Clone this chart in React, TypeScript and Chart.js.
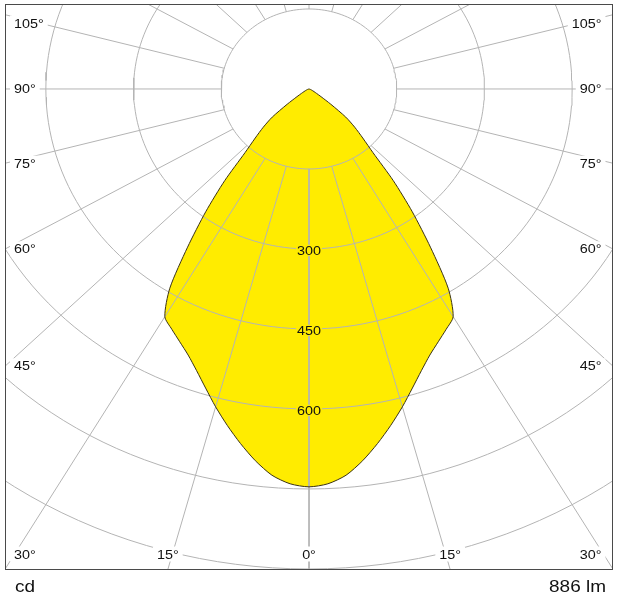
import React, { useEffect, useRef } from "react";
import { Chart, registerables } from "chart.js";

Chart.register(...registerables);

// Polar angle (degrees from nadir) and luminous intensity (cd), symmetric curve
const ANGLES = [0, 2.5, 5, 7.5, 10, 12.5, 15, 17.5, 20, 22.5, 25, 27.5, 30, 32.5, 35, 37.5, 40, 42.5, 45, 47.5, 50, 52.5, 55, 57.5, 60, 62.5, 65, 67.5, 70, 72.5, 75, 77.5, 80, 85, 90];
const INTENSITY = [746, 741, 727, 703, 675, 646, 617, 588, 562, 540, 523, 508, 493, 443, 362, 290, 224, 162, 130, 106, 82, 47, 25, 15, 10, 7, 5, 4, 3, 2, 1, 0, 0, 0, 0];

// Grid
const RING_VALUES = [150, 300, 450, 600, 750, 900, 1050];
const RING_LABELS = [300, 450, 600];
const RADIAL_ANGLES = [0, 15, 30, 45, 60, 75, 90, 105, 120, 135, 150, 165, 180];
const DEGREE_LABELS = [0, 15, 30, 45, 60, 75, 90, 105];
const UNIT_LABEL = "cd";
const FLUX_LABEL = "886 lm";

const INNER_RADIUS = 150;
const OUTER_RADIUS = 1150;

const FILL_COLOR = "#ffec00";
const OUTLINE_COLOR = "#3a3214";
const GRID_COLOR = "#b4b4b4";
const FRAME_COLOR = "#4a4a4a";
const TEXT_COLOR = "#111111";
const FONT = '"Liberation Sans", Arial, sans-serif';
const STRETCH = 1.15;

const toXY = (deg: number, r: number) => {
  const a = (deg * Math.PI) / 180;
  return { x: r * Math.sin(a), y: -r * Math.cos(a) };
};

function buildCurve() {
  const pts: { x: number; y: number }[] = [];
  for (let i = ANGLES.length - 1; i >= 0; i--) pts.push(toXY(-ANGLES[i], INTENSITY[i]));
  for (let i = 1; i < ANGLES.length; i++) pts.push(toXY(ANGLES[i], INTENSITY[i]));
  return pts;
}

function buildRings() {
  const pts: any[] = [];
  RING_VALUES.forEach((r) => {
    for (let a = 0; a <= 360; a += 2) pts.push(toXY(a, r));
    pts.push({ x: null, y: null });
  });
  return pts;
}

function buildRadials() {
  const pts: any[] = [];
  RADIAL_ANGLES.forEach((a) => {
    const sides = a === 0 || a === 180 ? [1] : [-1, 1];
    sides.forEach((s) => {
      pts.push(toXY(s * a, INNER_RADIUS));
      pts.push(toXY(s * a, OUTER_RADIUS));
      pts.push({ x: null, y: null });
    });
  });
  return pts;
}

function drawStretched(ctx: CanvasRenderingContext2D, text: string, x: number, y: number, align: "left" | "right" | "center") {
  const w = ctx.measureText(text).width * STRETCH;
  const left = align === "left" ? x : align === "right" ? x - w : x - w / 2;
  ctx.save();
  ctx.translate(left, y);
  ctx.scale(STRETCH, 1);
  ctx.textAlign = "left";
  ctx.textBaseline = "alphabetic";
  ctx.fillText(text, 0, 0);
  ctx.restore();
  return w;
}

const clamp = (v: number, lo: number, hi: number) => Math.max(lo, Math.min(hi, v));

const overlayPlugin = {
  id: "photometricOverlay",
  afterDatasetsDraw(chart: any) {
    const { ctx, chartArea, scales } = chart;
    const { left, right, top, bottom } = chartArea;
    const xs = scales.x;
    const ys = scales.y;
    const cx = xs.getPixelForValue(0);
    const cy = ys.getPixelForValue(0);

    ctx.save();
    // Degree labels
    ctx.font = `12.5px ${FONT}`;
    const h = 9;
    DEGREE_LABELS.forEach((deg) => {
      const sides = deg === 0 ? [1] : [-1, 1];
      sides.forEach((s) => {
        const p = toXY(s * deg, 100);
        const dx = xs.getPixelForValue(p.x) - cx;
        const dy = ys.getPixelForValue(p.y) - cy;
        let t = Infinity;
        let onBottom = false;
        if (dx > 1e-9) t = Math.min(t, (right - cx) / dx);
        if (dx < -1e-9) t = Math.min(t, (left - cx) / dx);
        if (dy > 1e-9) {
          const tb = (bottom - cy) / dy;
          if (tb < t) onBottom = true;
          t = Math.min(t, tb);
        }
        if (dy < -1e-9) t = Math.min(t, (top - cy) / dy);
        const hx = cx + t * dx;
        const hy = cy + t * dy;
        const text = `${deg}°`;
        const w = ctx.measureText(text).width * STRETCH;
        const mL = onBottom ? 12.5 : 8.5;
        const mR = onBottom ? 14 : 11;
        const lx = clamp(hx, left + mL + w / 2, right - mR - w / 2);
        const ly = clamp(hy, top + 14 + h / 2, bottom - 11 - h / 2);
        ctx.fillStyle = "#ffffff";
        ctx.fillRect(lx - w / 2 - 4, ly - h / 2 - 3, w + 8, h + 6);
        ctx.fillStyle = TEXT_COLOR;
        drawStretched(ctx, text, lx, ly + h / 2, "center");
      });
    });

    // Ring value labels
    RING_LABELS.forEach((r) => {
      const py = ys.getPixelForValue(-r) + 1.3;
      const text = String(r);
      const w = ctx.measureText(text).width * STRETCH;
      ctx.fillStyle = FILL_COLOR;
      ctx.fillRect(cx - w / 2 - 1, py - h / 2 - 1, w + 2, h + 2);
      ctx.fillStyle = TEXT_COLOR;
      drawStretched(ctx, text, cx, py + h / 2, "center");
    });

    // Frame
    ctx.strokeStyle = FRAME_COLOR;
    ctx.lineWidth = 1;
    ctx.strokeRect(left, top, right - left, bottom - top);

    // Footer texts
    ctx.font = `16.5px ${FONT}`;
    ctx.fillStyle = TEXT_COLOR;
    drawStretched(ctx, UNIT_LABEL, left + 9.5, bottom + 22, "left");
    drawStretched(ctx, FLUX_LABEL, right - 6.5, bottom + 22, "right");
    ctx.restore();
  },
};

export default function App() {
  const ref = useRef<HTMLCanvasElement | null>(null);
  useEffect(() => {
    if (!ref.current) return;
    const chart = new Chart(ref.current, {
      type: "scatter",
      data: {
        datasets: [
          {
            label: "Intensity",
            data: buildCurve(),
            showLine: true,
            fill: "shape",
            backgroundColor: FILL_COLOR,
            borderColor: OUTLINE_COLOR,
            borderWidth: 1,
            pointRadius: 0,
            tension: 0.25,
            order: 0,
          } as any,
          {
            label: "Rings",
            data: buildRings(),
            showLine: true,
            fill: false,
            borderColor: GRID_COLOR,
            borderWidth: 1,
            pointRadius: 0,
            spanGaps: false,
            order: 1,
          } as any,
          {
            label: "Radials",
            data: buildRadials(),
            showLine: true,
            fill: false,
            borderColor: GRID_COLOR,
            borderWidth: 1,
            pointRadius: 0,
            spanGaps: false,
            order: 2,
          } as any,
        ],
      },
      options: {
        animation: false,
        responsive: false,
        events: [],
        layout: { padding: { left: 5.5, top: 4.5, right: 7.5, bottom: 30.5 } },
        scales: {
          x: { type: "linear", min: -519, max: 519, display: false },
          y: { type: "linear", min: -901, max: 158.4, display: false },
        },
        plugins: {
          legend: { display: false },
          tooltip: { enabled: false },
          filler: { drawTime: "beforeDatasetsDraw", propagate: false },
        } as any,
      },
      plugins: [overlayPlugin],
    });
    return () => chart.destroy();
  }, []);
  return (
    <canvas
      ref={ref}
      width={620}
      height={600}
      style={{ position: "absolute", left: 0, top: 0, display: "block", background: "#ffffff" }}
    />
  );
}
